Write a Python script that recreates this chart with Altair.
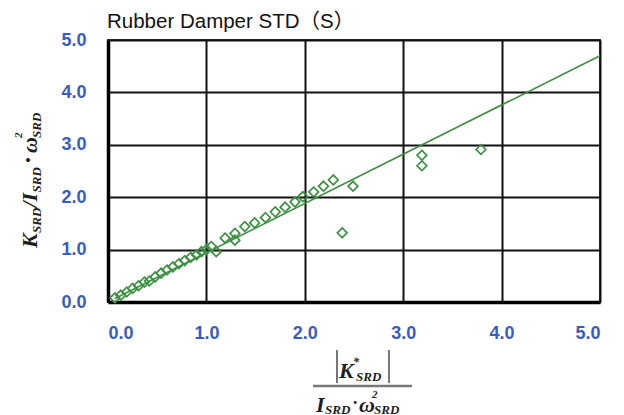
import altair as alt
import pandas as pd

# ---- data ----
x_vals = [0.07, 0.13, 0.19, 0.25, 0.31, 0.37, 0.42, 0.48, 0.54, 0.60, 0.66, 0.72,
          0.78, 0.84, 0.90, 0.95, 1.00, 1.05, 1.10, 1.19, 1.29, 1.29, 1.39, 1.49,
          1.60, 1.70, 1.80, 1.90, 1.98, 2.09, 2.19, 2.29, 2.38, 2.49, 3.19, 3.19, 3.79]
y_vals = [0.08, 0.13, 0.19, 0.26, 0.31, 0.38, 0.40, 0.48, 0.55, 0.61, 0.67, 0.73,
          0.79, 0.85, 0.90, 0.96, 1.00, 1.06, 0.96, 1.22, 1.31, 1.18, 1.44, 1.51,
          1.61, 1.72, 1.81, 1.91, 2.01, 2.10, 2.21, 2.33, 1.32, 2.21, 2.80, 2.60, 2.91]
fit_x = [0.07, 5.0]
fit_y = [0.066, 4.70]
tick_values = [0, 1, 2, 3, 4, 5]
title_text = "Rubber Damper STD（S）"

points = pd.DataFrame({"x": x_vals, "y": y_vals})
fit = pd.DataFrame({"x": fit_x, "y": fit_y})
anchor = pd.DataFrame({"a": [0]})

GREEN = "#3f8f45"
BLUE = "#3b5cb8"
SERIF = "Liberation Serif"
SANS = "Liberation Sans, Noto Sans CJK JP"
INK = "#1e1e1e"

scale = alt.Scale(domain=[0, 5], nice=False)


def axis():
    return alt.Axis(values=tick_values, format=".1f", title=None,
                    labelColor=BLUE, labelFont="Liberation Sans", labelFontSize=18,
                    labelFontWeight="bold", labelPadding=22, ticks=False,
                    grid=True, gridColor="#111111", gridWidth=2,
                    domainColor="#000000", domainWidth=3.5)


line = alt.Chart(fit).mark_line(color=GREEN, strokeWidth=1.6).encode(
    x=alt.X("x:Q", scale=scale, axis=axis()),
    y=alt.Y("y:Q", scale=scale, axis=axis()),
)

pts = alt.Chart(points).mark_point(shape="diamond", filled=False, color=GREEN,
                                   size=95, strokeWidth=1.7, opacity=1).encode(
    x=alt.X("x:Q", scale=scale),
    y=alt.Y("y:Q", scale=scale),
)


def txt(s, x, y, size, angle=0, align="left"):
    return alt.Chart(anchor).mark_text(
        text=s, fontSize=size, font=SERIF, fontStyle="italic", fontWeight="bold",
        align=align, baseline="alphabetic", angle=angle, color=INK,
    ).encode(x=alt.value(x), y=alt.value(y))


def rule(x, x2, y, y2, w, color):
    return alt.Chart(anchor).mark_rule(strokeWidth=w, color=color).encode(
        x=alt.value(x), x2=alt.value(x2), y=alt.value(y), y2=alt.value(y2))


title = alt.Chart(anchor).mark_text(
    text=title_text, font=SANS, fontSize=20.5, fontWeight="normal", color="#111111",
    align="left", baseline="alphabetic",
).encode(x=alt.value(-1), y=alt.value(-12))

# y-axis title: K_SRD / I_SRD • ω²_SRD (rotated, reading upward)
MB, SB = -71, -67  # main / subscript baselines
ytitle = [
    txt("K", MB, 208, 22, angle=270),
    txt("SRD", SB, 193, 13, angle=270),
    txt("/I", MB, 167.5, 22, angle=270),
    txt("SRD", SB, 152.5, 13, angle=270),
    txt("•", MB - 4, 120, 15, angle=270, align="center"),
    txt("ω", MB, 113, 22, angle=270),
    txt("2", -86, 98, 11, angle=270),
    txt("SRD", SB, 98, 13, angle=270),
]

# x-axis title: |K*_SRD| / (I_SRD · ω²_SRD)
xtitle = [
    rule(229, 229, 310, 343, 1.6, "#555555"),
    rule(281, 281, 310, 343, 1.6, "#555555"),
    txt("K", 231, 338, 22),
    txt("*", 248, 326, 12, align="center"),
    txt("SRD", 248, 341, 13),
    rule(205, 304, 346, 346, 2.5, "#777777"),
    txt("I", 208, 372, 22),
    txt("SRD", 217, 374, 13),
    txt("·", 247, 369, 18, align="center"),
    txt("ω", 251, 372, 22),
    txt("2", 264, 358, 11),
    txt("SRD", 266, 374, 13),
]

chart = alt.layer(line, pts, title, *ytitle, *xtitle).properties(
    width=492, height=262,
    autosize=alt.AutoSizeParams(type="none"),
    padding={"left": 100, "top": 32, "right": 16, "bottom": 118},
).configure_view(stroke="#333333", strokeWidth=2)

chart.save("out.html", embed_options={"renderer": "svg", "actions": False})
